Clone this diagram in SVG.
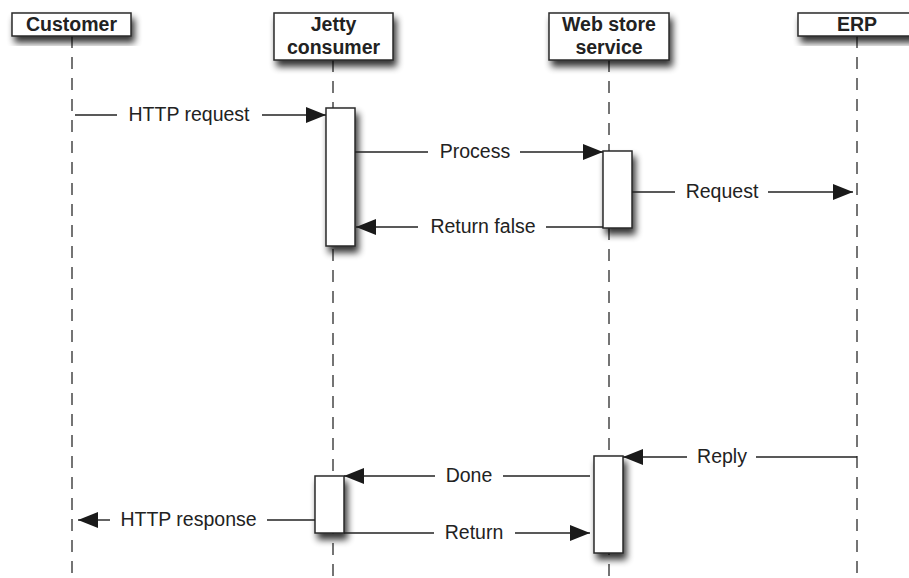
<svg xmlns="http://www.w3.org/2000/svg" width="909" height="578" viewBox="0 0 909 578">
<style>
.box{fill:#fff;stroke:#2a2a2a;stroke-width:1.5;filter:url(#sh)}
.act{fill:#fff;stroke:#2a2a2a;stroke-width:1.5;filter:url(#sh)}
.life{stroke:#3a3a3a;stroke-width:1.4;stroke-dasharray:12 9;fill:none}
.msg{stroke:#222;stroke-width:1.4;fill:none}
.arr{marker-end:url(#ah)}
.hd{font-family:"Liberation Sans",Arial,sans-serif;font-weight:bold;font-size:19.5px;fill:#222;text-anchor:middle}
.lb{font-family:"Liberation Sans",Arial,sans-serif;font-size:19.5px;fill:#222;text-anchor:middle}
</style>
<defs>
<filter id="sh" x="-40%" y="-40%" width="180%" height="180%">
<feGaussianBlur in="SourceAlpha" stdDeviation="3.5"/>
<feOffset dx="3" dy="6" result="b"/>
<feComponentTransfer><feFuncA type="linear" slope="0.8"/></feComponentTransfer>
<feMerge><feMergeNode/><feMergeNode in="SourceGraphic"/></feMerge>
</filter>
<marker id="ah" markerUnits="userSpaceOnUse" markerWidth="20" markerHeight="16" refX="20" refY="8" orient="auto">
<path d="M0,0 L20,8 L0,16 z" fill="#1a1a1a"/>
</marker>
</defs>
<rect width="909" height="578" fill="#fff"/>

<g id="lifelines">
<line class="life" x1="72" y1="36" x2="72" y2="578"/>
<line class="life" x1="333" y1="60" x2="333" y2="578"/>
<line class="life" x1="609" y1="60" x2="609" y2="578"/>
<line class="life" x1="857" y1="36" x2="857" y2="578"/>
</g>

<g id="customer">
<rect class="box" x="12" y="13" width="119" height="23"/>
<text class="hd" x="71.5" y="31">Customer</text>
</g>
<g id="jetty">
<rect class="box" x="274" y="13" width="119" height="47"/>
<text class="hd" x="333.5" y="31">Jetty</text>
<text class="hd" x="333.5" y="54">consumer</text>
</g>
<g id="webstore">
<rect class="box" x="549" y="13" width="120" height="47"/>
<text class="hd" x="609" y="31">Web store</text>
<text class="hd" x="609" y="54">service</text>
</g>
<g id="erp">
<rect class="box" x="798" y="13" width="120" height="23"/>
<text class="hd" x="857" y="31">ERP</text>
</g>

<g id="jetty-act1"><rect class="act" x="326" y="108" width="29" height="138"/></g>
<g id="web-act1"><rect class="act" x="603" y="151" width="29" height="77"/></g>
<g id="jetty-act2"><rect class="act" x="315" y="476" width="29" height="57"/></g>
<g id="web-act2"><rect class="act" x="594" y="456" width="29" height="97"/></g>

<g id="connectors">
<line class="msg" x1="75" y1="115" x2="117" y2="115"/>
<line class="msg arr" x1="262" y1="115" x2="326" y2="115"/>
<text class="lb" x="189" y="121">HTTP request</text>

<line class="msg" x1="355" y1="152" x2="428" y2="152"/>
<line class="msg arr" x1="520" y1="152" x2="603" y2="152"/>
<text class="lb" x="475" y="158">Process</text>

<line class="msg" x1="632" y1="192" x2="675" y2="192"/>
<line class="msg arr" x1="768" y1="192" x2="853" y2="192"/>
<text class="lb" x="722" y="198">Request</text>

<line class="msg" x1="603" y1="227" x2="546" y2="227"/>
<line class="msg arr" x1="418" y1="227" x2="356" y2="227"/>
<text class="lb" x="483" y="233">Return false</text>

<line class="msg" x1="857" y1="457" x2="756" y2="457"/>
<line class="msg arr" x1="687" y1="457" x2="623" y2="457"/>
<text class="lb" x="722" y="463">Reply</text>

<line class="msg" x1="590" y1="476" x2="503" y2="476"/>
<line class="msg arr" x1="435" y1="476" x2="344" y2="476"/>
<text class="lb" x="469" y="482">Done</text>

<line class="msg" x1="315" y1="520" x2="267" y2="520"/>
<line class="msg arr" x1="110" y1="520" x2="78" y2="520"/>
<text class="lb" x="188.5" y="526">HTTP response</text>

<line class="msg" x1="344" y1="533" x2="434" y2="533"/>
<line class="msg arr" x1="515" y1="533" x2="590" y2="533"/>
<text class="lb" x="474" y="539">Return</text>
</g>
</svg>
